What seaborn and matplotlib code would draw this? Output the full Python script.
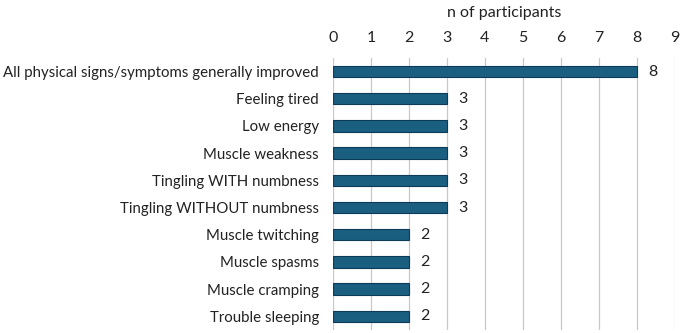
import matplotlib
matplotlib.use("Agg")
import matplotlib.pyplot as plt
import seaborn as sns
import pandas as pd

categories = [
    "All physical signs/symptoms generally improved",
    "Feeling tired",
    "Low energy",
    "Muscle weakness",
    "Tingling WITH numbness",
    "Tingling WITHOUT numbness",
    "Muscle twitching",
    "Muscle spasms",
    "Muscle cramping",
    "Trouble sleeping",
]
counts = [8, 3, 3, 3, 3, 3, 2, 2, 2, 2]
x_ticks = list(range(0, 10))

df = pd.DataFrame({"symptom": categories, "n": counts})

sns.set_style("white")
plt.rcParams["font.family"] = ["Lato", "DejaVu Sans"]

fig = plt.figure(figsize=(6.85, 3.33), dpi=100)
ax = fig.add_axes([0.486, 0.009, 0.499, 0.817])

sns.barplot(data=df, x="n", y="symptom", orient="h", color="#1a5f80",
            edgecolor="#0e3a5a", linewidth=0.8, width=0.42, saturation=1, ax=ax)

for i, v in enumerate(counts):
    ax.text(v + 0.3, i, str(v), va="center", ha="left", fontsize=11.5, color="#222222")

ax.set_xlim(0, 9)
ax.set_xticks(x_ticks)
ax.xaxis.tick_top()
ax.xaxis.set_label_position("top")
ax.set_xlabel("n of participants", fontsize=11.5, labelpad=10, color="#222222")
ax.set_ylabel("")
ax.tick_params(axis="x", length=0, labelsize=11.5, labelcolor="#222222", pad=9.5)
ax.tick_params(axis="y", length=0, labelsize=10.8, labelcolor="#222222", pad=10)
ax.grid(axis="x", color="#c8c8c8", linewidth=0.9)
ax.set_axisbelow(True)
for s in ax.spines.values():
    s.set_visible(False)

fig.savefig("out.png", dpi=100)
